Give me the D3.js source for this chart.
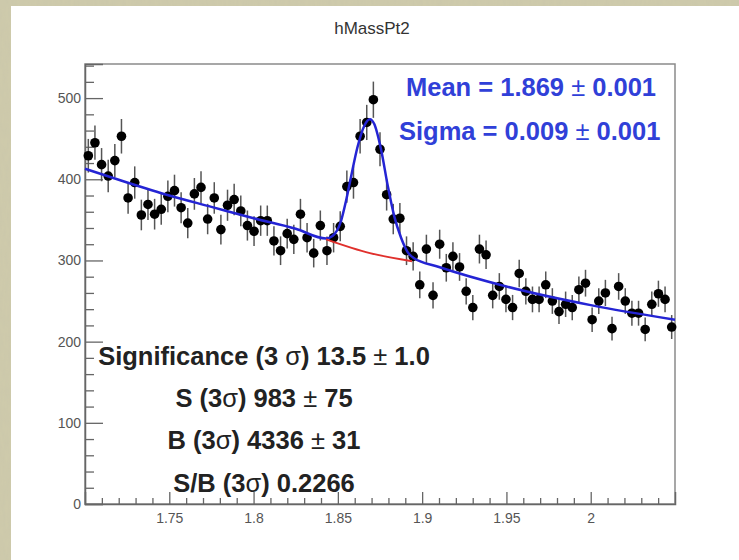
<!DOCTYPE html>
<html lang="en">
<head>
    <meta charset="UTF-8">
    <title>hMassPt2</title>
    <style>
        body, html {
            margin: 0;
            padding: 0;
            background: #cdc9a9;
            font-family: "Liberation Sans", Arial, sans-serif;
        }
        #chart {
            width: 739px;
            height: 560px;
            position: relative;
        }
    </style>
    <script src="https://d3js.org/d3.v7.min.js"></script>
</head>
<body>
    <div id="chart"></div>
    <script>
        // histogram: 89 bins between 1.70 and 2.05
        const xRange = [1.70, 2.05];
        const counts = [
            429, 445, 418, 404, 423, 453, 377, 396, 356, 369,
            357, 363, 379, 386, 365, 346, 382, 390, 351, 377,
            338, 368, 375, 361, 343, 336, 349, 349, 324, 312,
            333, 326, 357, 328, 309, 343, 312, 328, 342, 391,
            396, 453, 470, 498, 437, 381, 351, 352, 312, 305,
            270, 314, 257, 320, 291, 305, 292, 262, 242, 314,
            307, 257, 268, 252, 242, 284, 262, 252, 252, 270,
            250, 237, 246, 242, 264, 272, 227, 250, 260, 216,
            268, 250, 235, 235, 215, 246, 259, 252, 218
        ];

        // total fit (blue)
        const fitX = [1.700, 1.725, 1.750, 1.775, 1.800, 1.825, 1.843, 1.8468, 1.8518, 1.8548, 1.8577,
                      1.8617, 1.8657, 1.869, 1.8716, 1.8756, 1.8796, 1.8835, 1.8875, 1.8915, 1.895,
                      1.910, 1.950, 2.000, 2.050];
        const fitY = [413, 396, 380, 366, 352, 339, 327, 330, 348, 373, 402,
                      440, 466, 474, 468, 437, 392, 354, 328, 310, 303,
                      292, 268, 245, 227];

        // background only (red) under the peak
        const bkgX = [1.843, 1.869, 1.894];
        const bkgY = [326, 309, 299];

        const yTicks = [0, 100, 200, 300, 400, 500];
        const xTicks = [1.75, 1.8, 1.85, 1.9, 1.95, 2];
        const xTickLabels = ["1.75", "1.8", "1.85", "1.9", "1.95", "2"];

        const title = "hMassPt2";
        const fitLines = [
            ["Mean = 1.869", "0.001"],
            ["Sigma = 0.009", "0.001"]
        ];
        const sigLines = [
            ["Significance (3 ", "\u03c3", ") 13.5 ", "\u00b1", " 1.0"],
            ["S (3", "\u03c3", ") 983 ", "\u00b1", " 75"],
            ["B (3", "\u03c3", ") 4336 ", "\u00b1", " 31"],
            ["S/B (3", "\u03c3", ") 0.2266", "", ""]
        ];

        const width = 739, height = 560;
        const frame = {left: 85, right: 675, top: 64, bottom: 504};

        const svg = d3.select("#chart").append("svg")
            .attr("width", width)
            .attr("height", height)
            .style("display", "block");

        // beige paper texture around the pad
        const defs = svg.append("defs");
        const tex = defs.append("filter").attr("id", "paper")
            .attr("x", 0).attr("y", 0).attr("width", "100%").attr("height", "100%");
        tex.append("feTurbulence").attr("type", "fractalNoise")
            .attr("baseFrequency", "0.35 0.08").attr("numOctaves", 2).attr("seed", 3);
        tex.append("feColorMatrix").attr("type", "matrix")
            .attr("values", "0 0 0 0 0.55  0 0 0 0 0.53  0 0 0 0 0.40  0 0 0 0.35 0");
        tex.append("feComposite").attr("in2", "SourceGraphic").attr("operator", "in");
        svg.append("rect").attr("width", width).attr("height", height).attr("fill", "#cfcbab");
        svg.append("rect").attr("width", width).attr("height", height)
            .attr("fill", "#cfcbab").attr("filter", "url(#paper)");

        // white pad
        svg.append("rect")
            .attr("x", 11).attr("y", 6)
            .attr("width", width - 11).attr("height", height - 6)
            .attr("fill", "#ffffff");

        const x = d3.scaleLinear().domain(xRange).range([frame.left, frame.right]);
        const y = d3.scaleLinear().domain([0, 542]).range([frame.bottom, frame.top]);

        const binW = (xRange[1] - xRange[0]) / counts.length;
        const bins = counts.map((c, i) => ({x: xRange[0] + (i + 0.5) * binW, v: c}));

        // title
        svg.append("text")
            .attr("x", 372).attr("y", 34)
            .attr("text-anchor", "middle")
            .attr("font-size", 17)
            .attr("fill", "#333")
            .text(title);

        // frame
        svg.append("rect")
            .attr("x", frame.left).attr("y", frame.top)
            .attr("width", frame.right - frame.left)
            .attr("height", frame.bottom - frame.top)
            .attr("fill", "none")
            .attr("stroke", "#8a8a8a")
            .attr("stroke-width", 1.5);

        // y axis (ticks drawn inward)
        const yMinor = d3.range(0, 541, 20).filter(v => v % 100 !== 0);
        svg.append("g")
            .attr("transform", `translate(${frame.left},0)`)
            .call(d3.axisLeft(y).tickValues(yMinor).tickSize(-9).tickFormat(""))
            .call(g => g.select(".domain").remove())
            .call(g => g.selectAll("line").attr("stroke", "#666").attr("stroke-width", 1.3));
        svg.append("g")
            .attr("transform", `translate(${frame.left},0)`)
            .call(d3.axisLeft(y).tickValues(yTicks).tickSize(-18).tickPadding(4))
            .call(g => g.select(".domain").attr("stroke", "#666").attr("stroke-width", 1.5))
            .call(g => g.selectAll("line").attr("stroke", "#666").attr("stroke-width", 1.3))
            .call(g => g.selectAll("text")
                .attr("font-size", 14)
                .attr("font-family", "'Liberation Sans', Arial, sans-serif")
                .attr("fill", "#555"));

        // x axis
        const xMinor = d3.range(171, 205).map(v => v / 100).filter(v => Math.round(v * 100) % 5 !== 0);
        svg.append("g")
            .attr("transform", `translate(0,${frame.bottom})`)
            .call(d3.axisBottom(x).tickValues(xMinor).tickSize(-6).tickFormat(""))
            .call(g => g.select(".domain").remove())
            .call(g => g.selectAll("line").attr("stroke", "#666").attr("stroke-width", 1.3));
        svg.append("g")
            .attr("transform", `translate(0,${frame.bottom})`)
            .call(d3.axisBottom(x).tickValues(xTicks).tickSize(-12).tickPadding(9)
                .tickFormat((d, i) => xTickLabels[i]))
            .call(g => g.select(".domain").attr("stroke", "#666").attr("stroke-width", 1.5))
            .call(g => g.selectAll("line").attr("stroke", "#666").attr("stroke-width", 1.3))
            .call(g => g.selectAll("text")
                .attr("font-size", 14)
                .attr("font-family", "'Liberation Sans', Arial, sans-serif")
                .attr("fill", "#555"));

        // data points with error bars
        const pts = svg.append("g");
        pts.selectAll("line.err")
            .data(bins)
            .join("line")
            .attr("class", "err")
            .attr("x1", d => x(d.x)).attr("x2", d => x(d.x))
            .attr("y1", d => y(d.v - Math.sqrt(d.v)))
            .attr("y2", d => y(d.v + Math.sqrt(d.v)))
            .attr("stroke", "#555")
            .attr("stroke-width", 1.5);
        pts.selectAll("circle")
            .data(bins)
            .join("circle")
            .attr("cx", d => x(d.x))
            .attr("cy", d => y(d.v))
            .attr("r", 4.8)
            .attr("fill", "#000");

        // fit curves
        const line = d3.line().x(d => x(d[0])).y(d => y(d[1])).curve(d3.curveMonotoneX);
        svg.append("path")
            .datum(fitX.map((v, i) => [v, fitY[i]]))
            .attr("d", line)
            .attr("fill", "none")
            .attr("stroke", "#2424d4")
            .attr("stroke-width", 2.5);
        svg.append("path")
            .datum(bkgX.map((v, i) => [v, bkgY[i]]))
            .attr("d", line)
            .attr("fill", "none")
            .attr("stroke", "#e0302c")
            .attr("stroke-width", 2);

        // fit parameters
        const blue = svg.append("g")
            .attr("font-weight", "bold")
            .attr("font-size", 25.5)
            .attr("fill", "#3040d8");
        [[406, 96], [399, 140]].forEach((p, i) => {
            const t = blue.append("text").attr("x", p[0]).attr("y", p[1]);
            t.append("tspan").text(fitLines[i][0] + " ");
            t.append("tspan").attr("font-weight", "normal").text("\u00b1");
            t.append("tspan").text(" " + fitLines[i][1]);
        });

        // significance block
        const blk = svg.append("g")
            .attr("font-weight", "bold")
            .attr("font-size", 25.5)
            .attr("fill", "#222")
            .attr("text-anchor", "middle");
        [365, 407, 449, 492].forEach((yy, i) => {
            const parts = sigLines[i];
            const t = blk.append("text").attr("x", 264).attr("y", yy);
            t.append("tspan").text(parts[0]);
            t.append("tspan").attr("font-weight", "normal").text(parts[1]);
            t.append("tspan").text(parts[2]);
            if (parts[3]) t.append("tspan").attr("font-weight", "normal").text(parts[3]);
            if (parts[4]) t.append("tspan").text(parts[4]);
        });
    </script>
</body>
</html>
